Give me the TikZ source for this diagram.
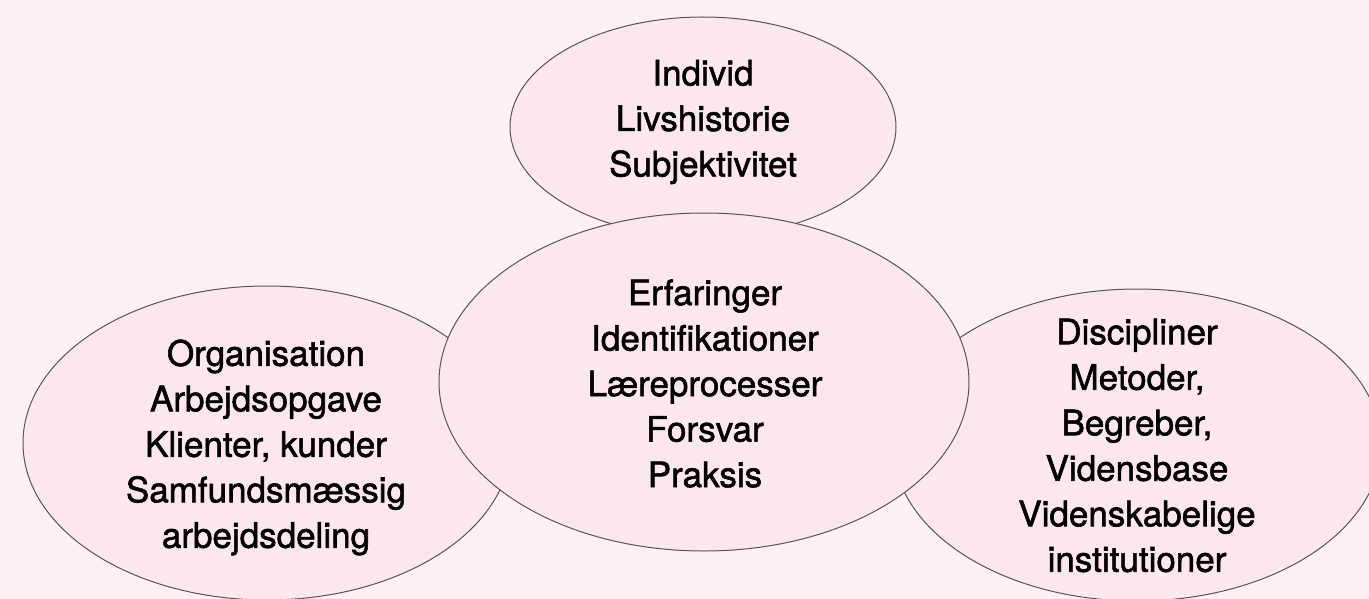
\documentclass[tikz,border=0pt]{standalone}
\usepackage{fontspec}
\newfontfamily\lblfont{TeX Gyre Heros}[FakeBold=1.6]
\usetikzlibrary{shapes.geometric}
\definecolor{bgpink}{RGB}{253,240,245}
\definecolor{ellfill}{RGB}{252,231,239}
\definecolor{ellline}{RGB}{85,85,85}
\tikzset{
  blob/.style={ellipse, draw=ellline, fill=ellfill, line width=1pt, inner sep=0pt},
  lbl/.style={align=center, inner sep=0pt, font=\lblfont\fontsize{35}{45.5}\selectfont}
}
\begin{document}
\begin{tikzpicture}[x=1pt,y=-1pt]
\fill[bgpink] (0,0) rectangle (1369,599);
\useasboundingbox (0,0) rectangle (1369,599);
\clip (0,0) rectangle (1369,599);
\node[blob, minimum width=386pt, minimum height=220pt] (top) at (703,127) {};
\node[blob, minimum width=488pt, minimum height=314pt] (left) at (267,443) {};
\node[blob, minimum width=488pt, minimum height=312pt] (right) at (1137,445) {};
\node[blob, minimum width=530pt, minimum height=338pt] (mid) at (704,382) {};
\node[lbl] (toptxt) at (703,122) {Individ\\Livshistorie\\Subjektivitet};
\node[lbl] (midtxt) at (705,383.5) {Erfaringer\\Identifikationer\\Læreprocesser\\Forsvar\\Praksis};
\node[lbl] (lefttxt) at (266,447.5) {Organisation\\Arbejdsopgave\\Klienter, kunder\\Samfundsmæssig\\arbejdsdeling};
\node[lbl] (righttxt) at (1137,445.5) {Discipliner\\Metoder,\\Begreber,\\Vidensbase\\Videnskabelige\\institutioner};
\end{tikzpicture}
\end{document}
